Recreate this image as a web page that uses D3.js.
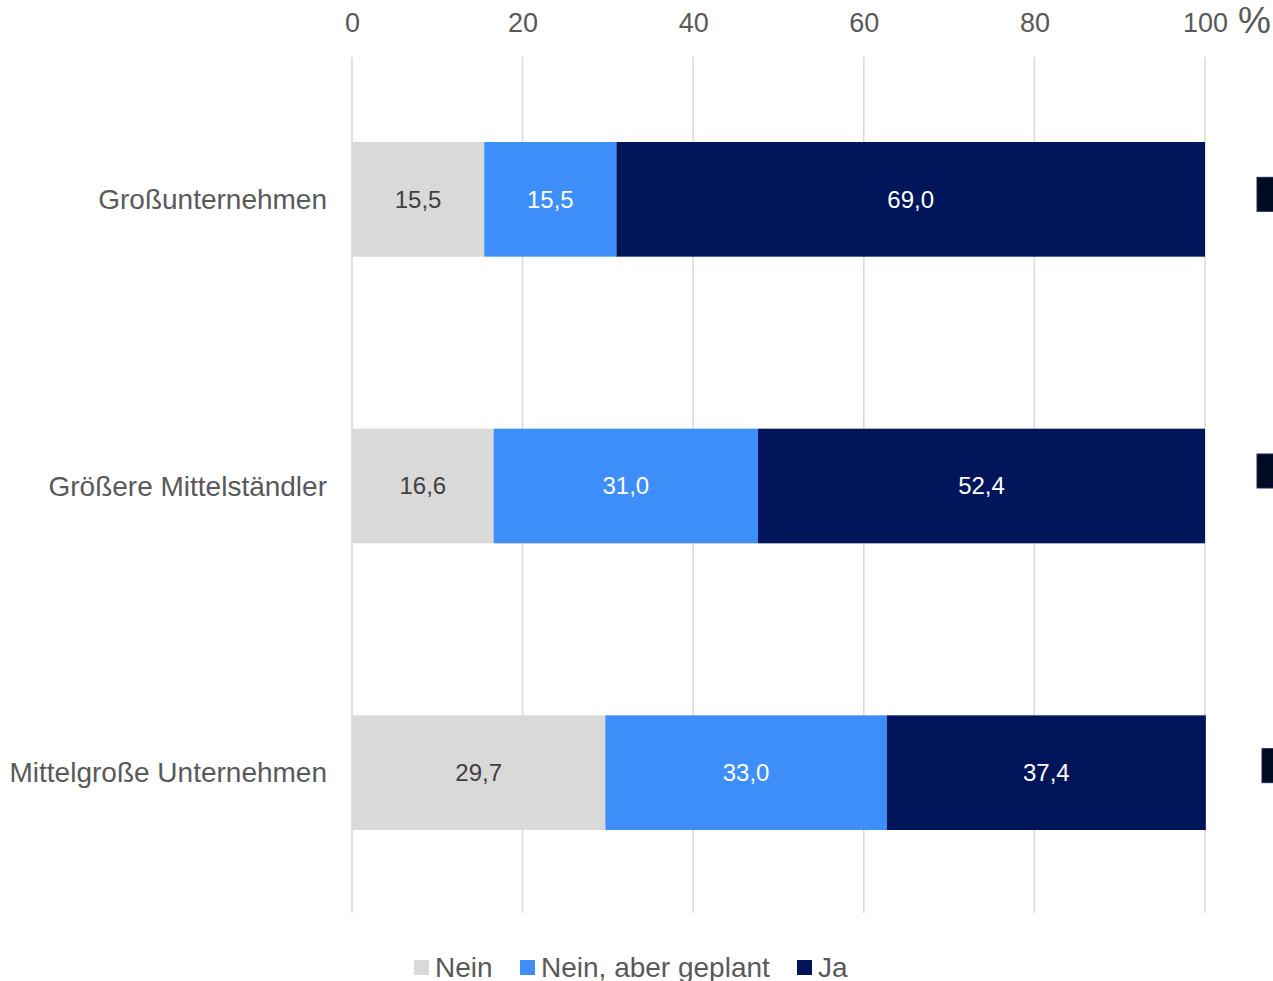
<!DOCTYPE html>
<html>
<head>
<meta charset="utf-8">
<script src="https://cdn.jsdelivr.net/npm/d3@7/dist/d3.min.js"></script>
<style>
  html, body { margin: 0; padding: 0; background: #ffffff; }
  svg { display: block; font-family: "Liberation Sans", Arial, sans-serif; }
</style>
</head>
<body>
<svg id="chart" width="1273" height="981"></svg>
<script>
// Company size classes (rows, top to bottom)
const categories = ["Großunternehmen", "Größere Mittelständler", "Mittelgroße Unternehmen"];
// Share in percent per answer
const nein = [15.5, 16.6, 29.7];
const neinGeplant = [15.5, 31.0, 33.0];
const ja = [69.0, 52.4, 37.4];
// Answer labels for the legend
const seriesNames = ["Nein", "Nein, aber geplant", "Ja"];
// Axis ticks
const ticks = [0, 20, 40, 60, 80, 100];

const colors = ["#d9d9d9", "#3e8ef9", "#00155a"];
const labelColors = ["#404040", "#ffffff", "#ffffff"];
const textGray = "#595959";

const svg = d3.select("#chart");

const x = d3.scaleLinear().domain([0, 100]).range([352, 1205]);
const y = d3.scaleBand().domain(categories).range([56, 916])
  .paddingInner(0.6).paddingOuter(0.3);

// Vertical gridlines
svg.append("g").selectAll("line").data(ticks).join("line")
  .attr("x1", d => x(d)).attr("x2", d => x(d))
  .attr("y1", 57).attr("y2", 913)
  .attr("stroke", "#d9d9d9").attr("stroke-width", 1.5);

// Top axis labels
const axis = d3.axisTop(x).tickValues(ticks).tickSize(0).tickPadding(0)
  .tickFormat(d3.format("d"));
const gAxis = svg.append("g").attr("transform", "translate(0,32)").call(axis);
gAxis.select(".domain").remove();
gAxis.selectAll("text")
  .attr("fill", textGray).attr("font-size", 27)
  .attr("font-family", "Liberation Sans, Arial, sans-serif")
  .attr("dy", 0);
svg.append("text").attr("x", 1238).attr("y", 33)
  .attr("fill", textGray).attr("font-size", 37).text("%");

// Stacked series
const rows = categories.map((c, i) => ({ cat: c, v: [nein[i], neinGeplant[i], ja[i]] }));
const bh = y.bandwidth();

rows.forEach(r => {
  let acc = 0;
  r.v.forEach((val, s) => {
    const x0 = acc, x1 = acc + val;
    acc = x1;
    svg.append("rect")
      .attr("x", x(x0)).attr("y", y(r.cat))
      .attr("width", x(x1) - x(x0)).attr("height", bh)
      .attr("fill", colors[s]);
    svg.append("text")
      .attr("x", (x(x0) + x(x1)) / 2)
      .attr("y", y(r.cat) + bh / 2)
      .attr("dy", "0.35em")
      .attr("text-anchor", "middle")
      .attr("font-size", 24)
      .attr("fill", labelColors[s])
      .text(d3.format(".1f")(val).replace(".", ","));
  });
});

// Category labels
svg.append("g").selectAll("text").data(categories).join("text")
  .attr("x", 327).attr("y", d => y(d) + bh / 2)
  .attr("dy", "0.35em").attr("text-anchor", "end")
  .attr("font-size", 28).attr("fill", textGray)
  .text(d => d);

// Small dark markers at the right margin of each row
const markerLeft = [1257, 1257, 1262];
const markerShift = [-22, -32, -24];
svg.append("g").selectAll("rect").data(categories).join("rect")
  .attr("x", (d, i) => markerLeft[i])
  .attr("y", (d, i) => y(d) + bh / 2 + markerShift[i])
  .attr("width", (d, i) => 1273 - markerLeft[i] + 2)
  .attr("height", 34)
  .attr("fill", "#000a22")
  .attr("stroke", "#1a2a5a").attr("stroke-width", 1);

// Legend
const legendX = [414, 520, 797];
const lg = svg.append("g");
seriesNames.forEach((name, i) => {
  lg.append("rect").attr("x", legendX[i]).attr("y", 960)
    .attr("width", 15).attr("height", 15).attr("fill", colors[i]);
  lg.append("text").attr("x", legendX[i] + 21).attr("y", 977)
    .attr("font-size", 28).attr("fill", textGray).text(name);
});
</script>
</body>
</html>
